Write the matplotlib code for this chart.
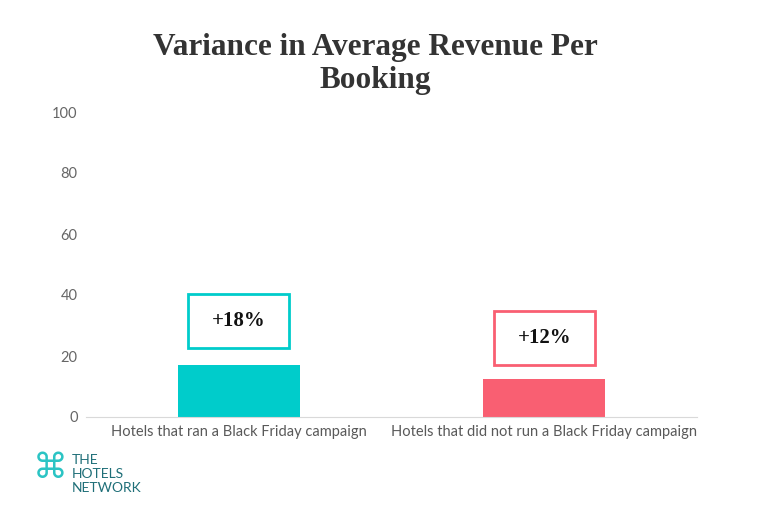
import matplotlib.pyplot as plt
from matplotlib.patches import Rectangle

categories = ['Hotels that ran a Black Friday campaign',
              'Hotels that did not run a Black Friday campaign']
values = [17.1, 12.4]
labels = ['+18%', '+12%']
colors = ['#00CCCB', '#F95F72']
yticks = [0, 20, 40, 60, 80, 100]

fig = plt.figure(figsize=(7.68, 5.2), dpi=100)
ax = fig.add_axes([86/768, 103/520, 611/768, 305/520])

x = range(len(categories))
ax.bar(x, values, width=0.4, color=colors, zorder=2)

# annotation boxes above the bars
box_offsets = [5.5, 4.6]
box_w, box_h = 0.33, 17.7
for i, v in enumerate(values):
    y0 = v + box_offsets[i]
    ax.add_patch(Rectangle((i - box_w/2, y0), box_w, box_h, fill=False,
                           edgecolor=colors[i], lw=2, zorder=3))
    ax.text(i, y0 + box_h/2, labels[i], ha='center', va='center',
            fontsize=15, fontweight='bold', family='Liberation Serif', color='#111111')

ax.set_xlim(-0.5, 1.5)
ax.set_ylim(0, 100)
ax.set_yticks(yticks)
ax.set_xticks(list(x))
ax.set_xticklabels(categories, family='Lato', fontsize=10.5, color='#595959')
ax.tick_params(axis='y', length=0, pad=6, labelsize=10.5, labelcolor='#666666')
ax.tick_params(axis='x', length=0, pad=6)
for lbl in ax.get_yticklabels():
    lbl.set_family('Lato')
for s in ['top', 'right', 'left']:
    ax.spines[s].set_visible(False)
ax.spines['bottom'].set_color('#D9D9D9')

fig.text(375/768, 1 - 64/520, 'Variance in Average Revenue Per\nBooking', ha='center', va='center',
         fontsize=22.5, fontweight='bold', family='Liberation Serif', color='#333333',
         linespacing=1.2)

# logo
fig.text(50/768, 1 - 468/520, '\u2318', ha='center', va='center', fontsize=25,
         family='DejaVu Sans', color='#2BC4C4')
fig.text(72/768, 1 - 474/520, 'THE\nHOTELS\nNETWORK', ha='left', va='center', fontsize=10,
         family='Lato', color='#1F6F78', linespacing=1.15)

fig.savefig('out.png', dpi=100)
